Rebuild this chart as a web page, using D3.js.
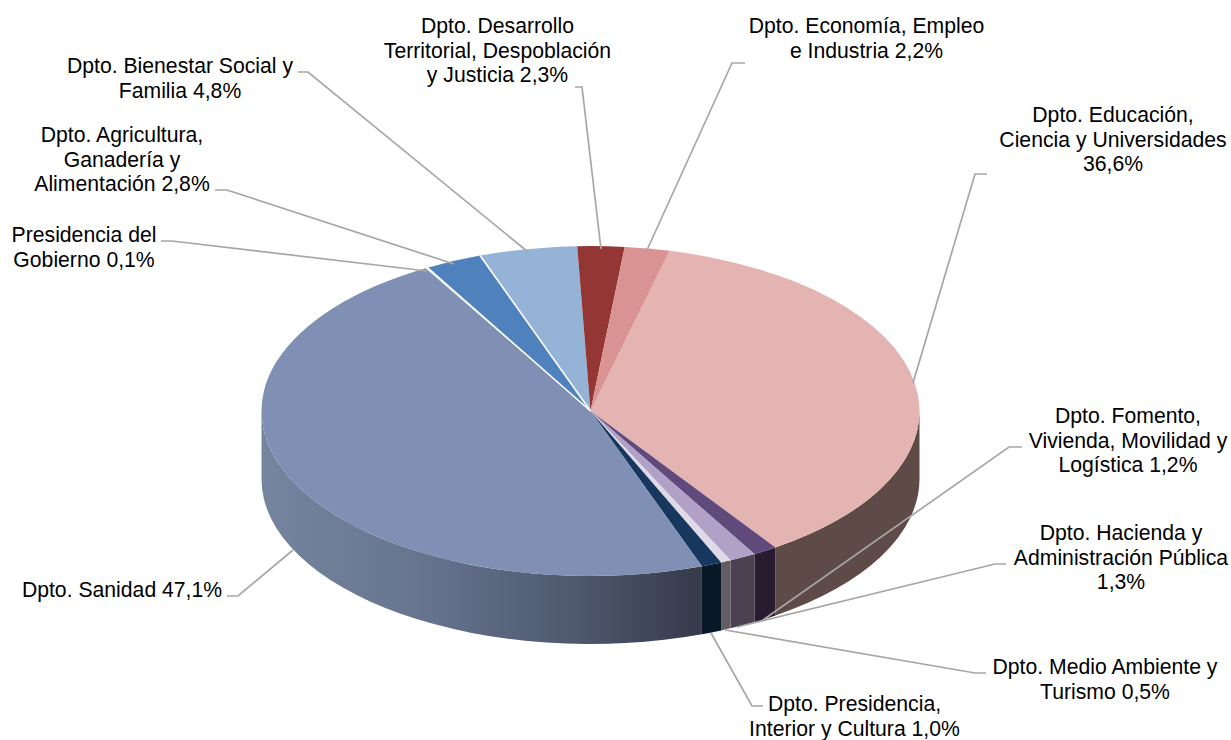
<!DOCTYPE html>
<html lang="es">
<head>
    <meta charset="UTF-8">
    <title>Presupuesto por departamentos</title>
    <script src="https://cdn.jsdelivr.net/npm/d3@7/dist/d3.min.js"></script>
    <style>
        html, body { margin: 0; padding: 0; background: #fff; }
        svg { display: block; }
        text { font-family: "Liberation Sans", Arial, sans-serif; font-size: 21.2px; fill: #000; text-anchor: middle; }
        .leader { fill: none; stroke: #a6a6a6; stroke-width: 1.7; }
    </style>
</head>
<body>
    <div class="chart"></div>
    <script>
    // slices, clockwise from the top of the pie
    var categories = ['Educacion', 'Fomento', 'Hacienda', 'MedioAmbiente', 'Presidencia', 'Sanidad',
                      'PresidenciaGobierno', 'Agricultura', 'Bienestar', 'Desarrollo', 'Economia'];
    var values = [36.6, 1.2, 1.3, 0.5, 1.0, 47.1, 0.1, 2.8, 4.8, 2.3, 2.2];
    var labelLines = [
        ['Dpto. Educación,', 'Ciencia y Universidades', '{v}'],
        ['Dpto. Fomento,', 'Vivienda, Movilidad y', 'Logística {v}'],
        ['Dpto. Hacienda y', 'Administración Pública', '{v}'],
        ['Dpto. Medio Ambiente y', 'Turismo {v}'],
        ['Dpto. Presidencia,', 'Interior y Cultura {v}'],
        ['Dpto. Sanidad {v}'],
        ['Presidencia del', 'Gobierno {v}'],
        ['Dpto. Agricultura,', 'Ganadería y', 'Alimentación {v}'],
        ['Dpto. Bienestar Social y', 'Familia {v}'],
        ['Dpto. Desarrollo', 'Territorial, Despoblación', 'y Justicia {v}'],
        ['Dpto. Economía, Empleo', 'e Industria {v}']
    ];

    // styles
    var topColors = ['#e4b4b3', '#604a7b', '#b2a1c7', '#e0d9e8', '#17375e', '#7f90b4',
                     '#dce6f2', '#4f81bd', '#95b3d7', '#943634', '#d89392'];
    var sideColors = ['#5e4a47', '#2a1c30', '#4a4250', '#635c63', '#081826', null,
                      '#8a9ab8', '#3a5a80', '#6a80a0', '#5a2020', '#8a5a5a'];

    // label layout: centre x, first line baseline, leader points (text end, elbow, slice)
    var labelLayout = [
        { x: 1113, y: 122, leader: [[987, 174], [975, 174], [913, 383]] },
        { x: 1128, y: 423, leader: [[1022, 447], [1009, 447], [763, 620]] },
        { x: 1121, y: 540, leader: [[1006, 564], [995, 564], [737, 627]] },
        { x: 1105, y: 674, leader: [[986, 673], [975, 673], [725, 630]] },
        { x: 854.5, y: 711, leader: [[763, 706], [752, 706], [711, 633]] },
        { x: 122, y: 597, leader: [[227, 596], [238, 596], [293, 550]] },
        { x: 84, y: 242, leader: [[161, 241], [172, 241], [427, 271]] },
        { x: 122, y: 142, leader: [[215, 190], [227, 190], [454, 264]] },
        { x: 180, y: 73, leader: [[298, 72], [308, 72], [528, 252]] },
        { x: 497.5, y: 33, leader: [[575, 87], [582, 87], [601, 249]] },
        { x: 866.5, y: 33, leader: [[745, 63], [732, 63], [647, 250]] }
    ];
    var whiteEdges = ['Agricultura', 'PresidenciaGobierno'];

    var width = 1231, height = 740;
    var cx = 590.5, cy = 411, rx = 329, ry = 165, depth = 68;
    var startDeg = 13.9;
    var toRad = Math.PI / 180;

    var svg = d3.select('.chart').append('svg')
        .attr('width', width)
        .attr('height', height);

    var pie = d3.pie().sort(null).value(function(d) { return d; })
        .startAngle(startDeg * toRad)
        .endAngle((startDeg + 360) * toRad);
    var slices = pie(values);

    var ex = function(a) { return cx + rx * Math.sin(a); };
    var ey = function(a) { return cy - ry * Math.cos(a); };

    var defs = svg.append('defs');
    var sideGrad = defs.append('linearGradient')
        .attr('id', 'sideSanidad')
        .attr('gradientUnits', 'userSpaceOnUse')
        .attr('x1', cx - rx).attr('x2', 702)
        .attr('y1', 0).attr('y2', 0);
    sideGrad.selectAll('stop')
        .data([[0, '#76859f'], [0.35, '#67758f'], [0.7, '#4f5a70'], [1, '#363a4a']])
        .enter().append('stop')
        .attr('offset', function(d) { return d[0]; })
        .attr('stop-color', function(d) { return d[1]; });

    // front wall: only the part of each slice between 90 and 270 degrees shows
    var sideSlices = slices.map(function(s, i) {
        var a0 = Math.max(s.startAngle, 90 * toRad);
        var a1 = Math.min(s.endAngle, 270 * toRad);
        return { a0: a0, a1: a1, i: i };
    }).filter(function(d) { return d.a1 > d.a0; });

    svg.append('g').selectAll('path')
        .data(sideSlices)
        .enter().append('path')
        .attr('d', function(d) {
            return 'M' + ex(d.a0) + ',' + ey(d.a0) +
                'A' + rx + ',' + ry + ' 0 0 1 ' + ex(d.a1) + ',' + ey(d.a1) +
                'L' + ex(d.a1) + ',' + (ey(d.a1) + depth) +
                'A' + rx + ',' + ry + ' 0 0 0 ' + ex(d.a0) + ',' + (ey(d.a0) + depth) + 'Z';
        })
        .attr('fill', function(d) { return sideColors[d.i] || 'url(#sideSanidad)'; });

    // top face: a d3 arc squashed into the ellipse
    var arc = d3.arc().innerRadius(0).outerRadius(rx);
    var topFace = svg.append('g')
        .attr('transform', 'translate(' + cx + ',' + cy + ') scale(1,' + (ry / rx) + ')');
    topFace.selectAll('path')
        .data(slices)
        .enter().append('path')
        .attr('d', arc)
        .attr('fill', function(d, i) { return topColors[i]; });

    // light separators either side of the smallest slices
    svg.append('g').selectAll('line')
        .data(slices.filter(function(s, i) { return whiteEdges.indexOf(categories[i]) >= 0; }))
        .enter().append('line')
        .attr('x1', cx).attr('y1', cy)
        .attr('x2', function(d) { return ex(d.endAngle); })
        .attr('y2', function(d) { return ey(d.endAngle); })
        .attr('stroke', '#fff').attr('stroke-width', 1.6);

    var lineGen = d3.line();
    svg.append('g').selectAll('path')
        .data(labelLayout)
        .enter().append('path')
        .attr('class', 'leader')
        .attr('d', function(d) { return lineGen(d.leader); });

    var fmt = d3.format('.1f');
    var labels = svg.append('g').selectAll('text')
        .data(categories)
        .enter().append('text')
        .attr('x', function(d, i) { return labelLayout[i].x; })
        .attr('y', function(d, i) { return labelLayout[i].y; });
    labels.selectAll('tspan')
        .data(function(d, i) {
            var pct = fmt(values[i]).replace('.', ',') + '%';
            return labelLines[i].map(function(t, k) {
                return { t: t.replace('{v}', pct), k: k, x: labelLayout[i].x };
            });
        })
        .enter().append('tspan')
        .attr('x', function(d) { return d.x; })
        .attr('dy', function(d) { return d.k === 0 ? 0 : 24.6; })
        .text(function(d) { return d.t; });
    </script>
</body>
</html>
